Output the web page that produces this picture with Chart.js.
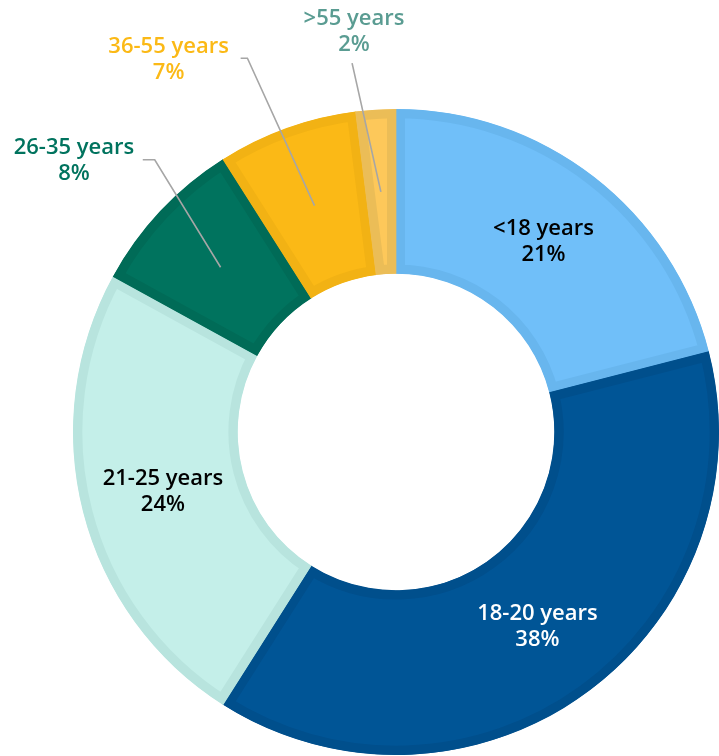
<!DOCTYPE html>
<html>
<head>
<meta charset="utf-8">
<script src="https://cdn.jsdelivr.net/npm/chart.js@4/dist/chart.umd.min.js"></script>
<style>
html,body{margin:0;padding:0;background:#fff;}
#wrap{width:719px;height:756px;position:relative;}
</style>
</head>
<body>
<div id="wrap"><canvas id="c" width="719" height="756"></canvas></div>
<script>
const categories = ['<18 years', '18-20 years', '21-25 years', '26-35 years', '36-55 years', '>55 years'];
const shares = [21, 38, 24, 8, 7, 2];
const fillColors = ['#70bff9', '#005596', '#c4efe9', '#00735e', '#fbb916', '#fdc85a'];
const edgeColors = ['#68b6ee', '#004f8c', '#b8e4de', '#006b57', '#f2b214', '#ebbd57'];
const labelColors = ['#000000', '#ffffff', '#000000', '#00735e', '#fbb916', '#5a9c92'];
const insideLabel = [true, true, true, false, false, false];

const FONT = '600 22px "Open Sans", "Liberation Sans", Arial, sans-serif';

// outside label placement, relative to chart centre in units of outer radius
const outsidePlacement = {
  3: {lx: -0.997, ly: -0.840, hook: [-0.784, -0.843, -0.747, -0.843]},
  4: {lx: -0.704, ly: -1.154, hook: [-0.481, -1.157, -0.460, -1.157]},
  5: {lx: -0.130, ly: -1.238, hook: [-0.136, -1.142, -0.136, -1.142]}
};

const labelPlugin = {
  id: 'sliceLabels',
  afterDatasetsDraw(chart) {
    const ctx = chart.ctx;
    const meta = chart.getDatasetMeta(0);
    ctx.save();
    ctx.font = FONT;
    ctx.textAlign = 'center';
    ctx.textBaseline = 'middle';
    meta.data.forEach((arc, i) => {
      const cx = arc.x, cy = arc.y, R = arc.outerRadius;
      const mid = (arc.startAngle + arc.endAngle) / 2;
      const rm = (arc.innerRadius + arc.outerRadius) / 2;
      const px = cx + Math.cos(mid) * rm;
      const py = cy + Math.sin(mid) * rm;
      const line1 = categories[i];
      const line2 = shares[i] + '%';
      ctx.fillStyle = labelColors[i];
      if (insideLabel[i]) {
        ctx.fillText(line1, px, py - 13);
        ctx.fillText(line2, px, py + 13);
      } else {
        const p = outsidePlacement[i];
        const lx = cx + p.lx * R, ly = cy + p.ly * R;
        ctx.fillText(line1, lx, ly - 13);
        ctx.fillText(line2, lx, ly + 13);
        ctx.strokeStyle = '#a6a6a6';
        ctx.lineWidth = 1.6;
        ctx.beginPath();
        ctx.moveTo(cx + p.hook[0] * R, cy + p.hook[1] * R);
        ctx.lineTo(cx + p.hook[2] * R, cy + p.hook[3] * R);
        ctx.lineTo(px, py);
        ctx.stroke();
      }
    });
    ctx.restore();
  }
};

new Chart(document.getElementById('c'), {
  type: 'doughnut',
  data: {
    labels: categories,
    datasets: [{
      data: shares,
      backgroundColor: fillColors,
      borderColor: edgeColors,
      borderWidth: 9,
      borderAlign: 'inner',
      hoverOffset: 0
    }]
  },
  options: {
    responsive: false,
    animation: false,
    cutout: '49%',
    rotation: 0,
    layout: {padding: {top: 108, left: 73, right: 0, bottom: 0}},
    plugins: {legend: {display: false}, tooltip: {enabled: false}}
  },
  plugins: [labelPlugin]
});
</script>
</body>
</html>
